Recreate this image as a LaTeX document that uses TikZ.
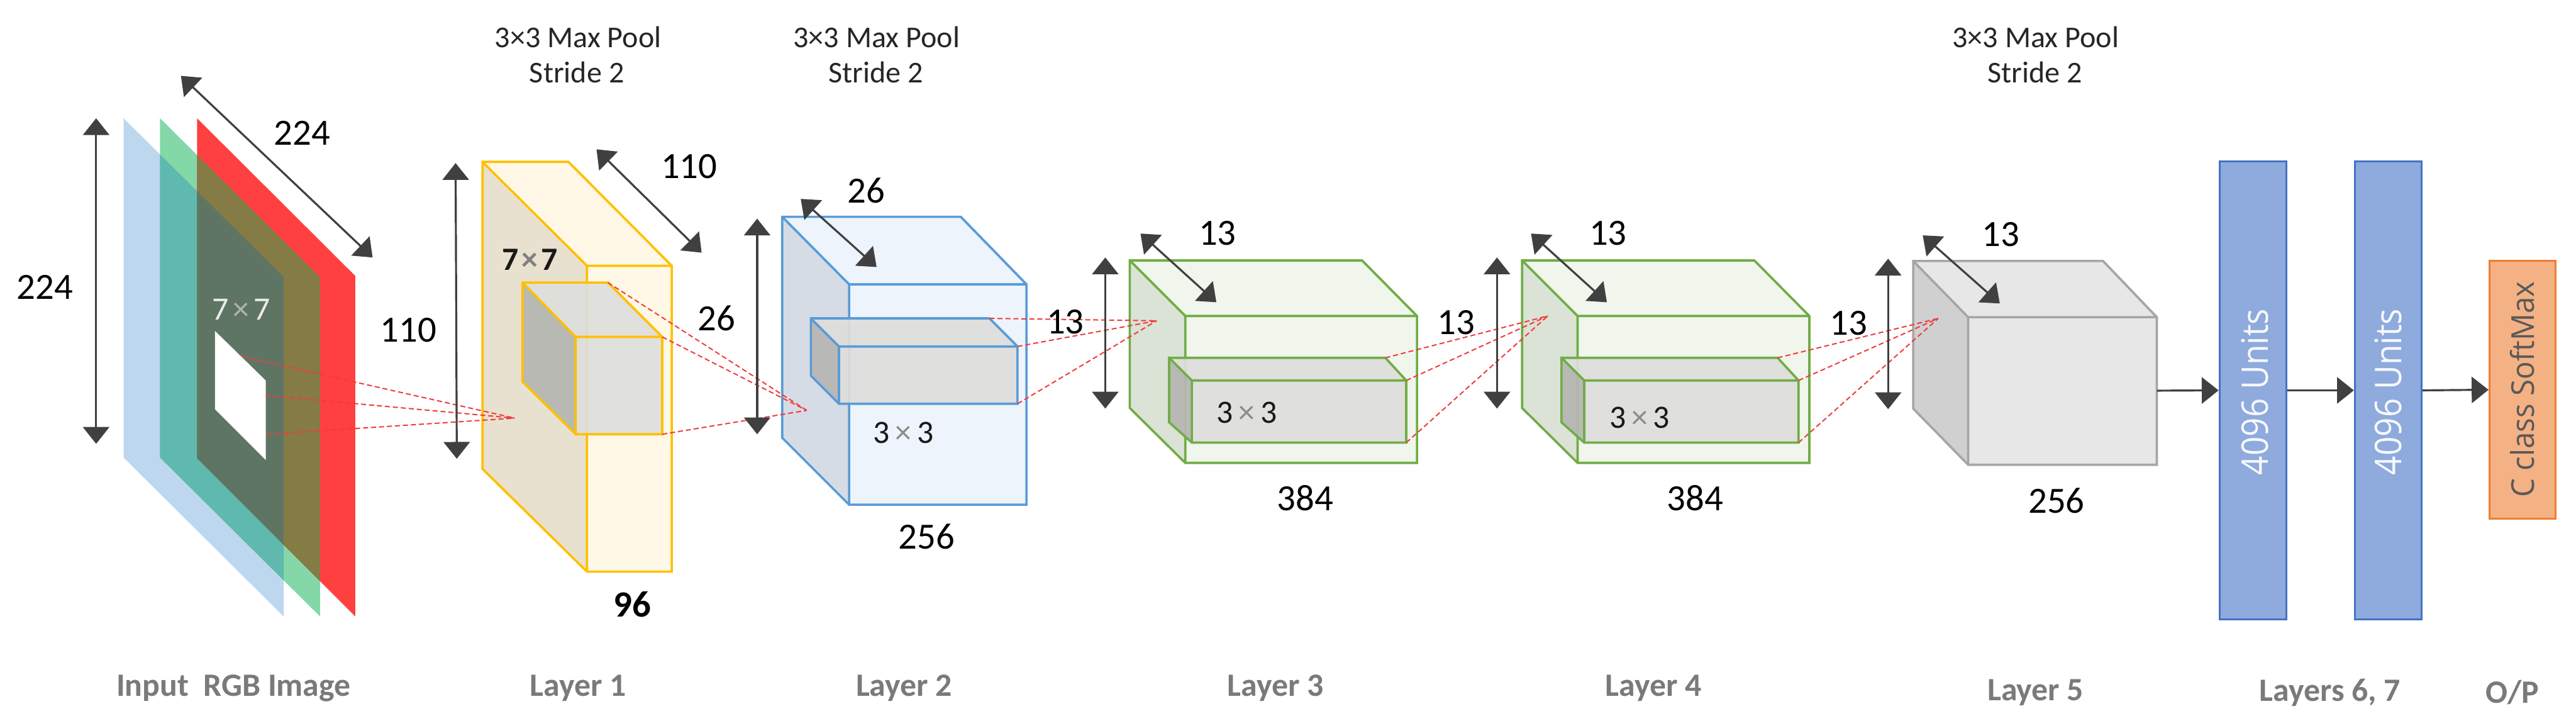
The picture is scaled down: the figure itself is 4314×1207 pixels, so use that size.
\documentclass[tikz,border=0pt]{standalone}
\usepackage{fontspec}
\usepackage{graphicx}
\setmainfont{Carlito}
\newfontfamily\unitfont{Open Sans}
\usetikzlibrary{arrows.meta,calc}
\definecolor{pBlue}{HTML}{BDD7EE}
\definecolor{pGreen}{HTML}{84D8A8}
\definecolor{pRed}{HTML}{FF4040}
\definecolor{pBG}{HTML}{5FB9AE}
\definecolor{pGR}{HTML}{847B45}
\definecolor{pAll}{HTML}{5F7563}
\definecolor{yS}{HTML}{FFC000}
\definecolor{yF}{HTML}{FFF8E7}
\definecolor{yD}{HTML}{E8E1CF}
\definecolor{bS}{HTML}{5B9BD5}
\definecolor{bF}{HTML}{EDF4FB}
\definecolor{bD}{HTML}{D6DCE5}
\definecolor{gS}{HTML}{70AD47}
\definecolor{gF}{HTML}{F0F6EC}
\definecolor{gD}{HTML}{DBE2D6}
\definecolor{kS}{HTML}{A6A6A6}
\definecolor{kF}{HTML}{E7E7E7}
\definecolor{kD}{HTML}{D0D0D0}
\definecolor{iF}{HTML}{DEDEDC}
\definecolor{iD}{HTML}{B6B6B2}
\definecolor{dimc}{HTML}{404040}
\definecolor{dash}{HTML}{F03C3C}
\definecolor{capc}{HTML}{7A7A7A}
\definecolor{fcF}{HTML}{8FAADC}
\definecolor{fcS}{HTML}{4472C4}
\definecolor{opF}{HTML}{F4B183}
\definecolor{opS}{HTML}{ED7D31}
\tikzset{
  x=0.01cm,y=-0.01cm,
  dimarrow/.style={draw=dimc,line width=0.95pt,
    {Triangle[width=12.5pt,length=8pt]}-{Triangle[width=12.5pt,length=8pt]}},
  flowarrow/.style={draw=dimc,line width=0.95pt,-{Triangle[width=12.5pt,length=8pt]}},
  reddash/.style={draw=dash,line width=0.6pt,dash pattern=on 2.4pt off 1.4pt},
  dimlabel/.style={inner sep=0pt,font=\fontsize{17.6}{20}\selectfont,text=black},
  title/.style={inner sep=0pt,font=\fontsize{14.4}{16}\selectfont,text=black!85},
  caption/.style={inner sep=0pt,font=\fontsize{15.5}{18}\selectfont\bfseries,text=capc},
  kernel/.style={inner sep=0pt,font=\fontsize{15.5}{18}\selectfont,text=black!90},
  fcbar/.style={draw=fcS,fill=fcF,line width=0.9pt,minimum width=112*0.01cm,minimum height=767*0.01cm,inner sep=0pt},
  opbar/.style={draw=opS,fill=opF,line width=0.9pt,minimum width=111*0.01cm,minimum height=431*0.01cm,inner sep=0pt},
}
% name, stroke, face, side, back-left-top, back-right-top, front-left-top, front-right-bottom, back-left-bottom
\newcommand{\boxy}[9]{%
  \coordinate (#1a) at #5; \coordinate (#1b) at #6; \coordinate (#1c) at #7;
  \coordinate (#1d) at #8; \coordinate (#1e) at #9;
  \coordinate (#1f) at (#1d |- #1c); \coordinate (#1g) at (#1c |- #1d);
  \fill[#4] (#1a) -- (#1c) -- (#1g) -- (#1e) -- cycle;
  \fill[#3] (#1a) -- (#1b) -- (#1f) -- (#1c) -- cycle;
  \fill[#3] (#1c) -- (#1f) -- (#1d) -- (#1g) -- cycle;
  \draw[#2,line width=1.1pt,line join=miter]
     (#1a) -- (#1b) -- (#1f) -- (#1d) -- (#1g) -- (#1e) -- cycle
     (#1a) -- (#1c) -- (#1f) (#1c) -- (#1g);
}
\begin{document}
\begin{tikzpicture}
\useasboundingbox (0,0) rectangle (4314,1207);
\fill[white] (0,0) rectangle (4314,1207);

% input planes
\coordinate (b1) at (207,198); \coordinate (b2) at (475,464); \coordinate (b3) at (475,1032); \coordinate (b4) at (207,766);
\coordinate (g1) at (268,198); \coordinate (g2) at (536,464); \coordinate (g3) at (536,1032); \coordinate (g4) at (268,766);
\coordinate (r1) at (330,198); \coordinate (r2) at (595,462); \coordinate (r3) at (595,1032); \coordinate (r4) at (330,767);
\newcommand{\blueP}{(b1)--(b2)--(b3)--(b4)--cycle}
\newcommand{\greenP}{(g1)--(g2)--(g3)--(g4)--cycle}
\newcommand{\redP}{(r1)--(r2)--(r3)--(r4)--cycle}
\fill[pBlue] \blueP;
\fill[pGreen] \greenP;
\fill[pRed] \redP;
\begin{scope}\clip \blueP; \fill[pBG] \greenP; \end{scope}
\begin{scope}\clip \greenP; \fill[pGR] \redP; \end{scope}
\begin{scope}\clip \blueP; \clip \greenP; \fill[pAll] \redP; \end{scope}
\fill[white] (360,554) -- (445,637) -- (445,770) -- (360,685) -- cycle;
\coordinate (w1) at (406,597); \coordinate (w2) at (445,662); \coordinate (w3) at (448,727);

% layers
\boxy{la}{yS}{yF}{yD}{(808,271)}{(952,271)}{(983,445)}{(1125,957)}{(808,785)}
\begin{scope}[fill opacity=.92]
\boxy{lai}{yS}{iF}{iD}{(875,473)}{(1018,473)}{(964,564)}{(1109,727)}{(875,639)}
\end{scope}
\boxy{lb}{bS}{bF}{bD}{(1310,363)}{(1609,363)}{(1422,476)}{(1719,845)}{(1310,733)}
\begin{scope}[fill opacity=.92]
\boxy{lbi}{bS}{iF}{iD}{(1358,533)}{(1657,533)}{(1405,580)}{(1704,676)}{(1358,629)}
\end{scope}
\boxy{lc}{gS}{gF}{gD}{(1892,436)}{(2281,436)}{(1985,529)}{(2373,775)}{(1892,683)}
\begin{scope}[fill opacity=.92]
\boxy{lci}{gS}{iF}{iD}{(1958,599)}{(2320,599)}{(1996,637)}{(2355,741)}{(1958,707)}
\end{scope}
\boxy{ld}{gS}{gF}{gD}{(2549,436)}{(2938,436)}{(2642,529)}{(3030,775)}{(2549,683)}
\begin{scope}[fill opacity=.92]
\boxy{ldi}{gS}{iF}{iD}{(2615,599)}{(2977,599)}{(2653,637)}{(3012,741)}{(2615,707)}
\end{scope}
\boxy{le}{kS}{kF}{kD}{(3204,437)}{(3522,437)}{(3296,531)}{(3612,778)}{(3204,684)}

% focus points of the dashed rays
\coordinate (fa) at (862,700);
\coordinate (fb) at (1351,687);
\coordinate (fc) at (1937,537);
\coordinate (fd) at (2592,529);
\coordinate (fe) at (3246,533);
\draw[reddash] (w1) -- (fa) (w2) -- (fa) (w3) -- (fa);
\draw[reddash] (laib) -- (fb) (laif) -- (fb) (laid) -- (fb);
\draw[reddash] (lbib) -- (fc) (lbif) -- (fc) (lbid) -- (fc);
\draw[reddash] (lcib) -- (fd) (lcif) -- (fd) (lcid) -- (fd);
\draw[reddash] (ldib) -- (fe) (ldif) -- (fe) (ldid) -- (fe);

% dimension arrows
\coordinate (v0a) at (161,198); \coordinate (v0b) at (161,743);
\coordinate (d0a) at (303,127); \coordinate (d0b) at (624,431);
\coordinate (v1a) at (763,273); \coordinate (v1b) at (765,768);
\coordinate (d1a) at (999,250); \coordinate (d1b) at (1175,423);
\coordinate (v2a) at (1268,366); \coordinate (v2b) at (1268,727);
\coordinate (d2a) at (1341,333); \coordinate (d2b) at (1468,447);
\coordinate (v3a) at (1851,431); \coordinate (v3b) at (1851,684);
\coordinate (d3a) at (1910,391); \coordinate (d3b) at (2037,506);
\coordinate (v4a) at (2507,431); \coordinate (v4b) at (2507,684);
\coordinate (d4a) at (2564,391); \coordinate (d4b) at (2691,506);
\coordinate (v5a) at (3162,433); \coordinate (v5b) at (3162,685);
\coordinate (d5a) at (3220,394); \coordinate (d5b) at (3349,508);
\foreach \n in {v0,d0,v1,d1,v2,d2,v3,d3,v4,d4,v5,d5}{\draw[dimarrow] (\n a) -- (\n b);}

% fully connected bars
\node[fcbar] (fc1) at (3773,653.5) {};
\node[rotate=90,inner sep=0pt,text=white!92!fcF,font=\unitfont\fontsize{17.5}{20}\selectfont] (fc1t) at (3776,656) {\scalebox{0.91}[1]{4096 Units}};
\node[fcbar] (fc2) at (3999.5,653.5) {};
\node[rotate=90,inner sep=0pt,text=white!92!fcF,font=\unitfont\fontsize{17.5}{20}\selectfont] (fc2t) at (3999,656) {\scalebox{0.91}[1]{4096 Units}};
\node[opbar] (op) at (4224.5,652.5) {};
\node[rotate=90,inner sep=0pt,text=black!65,font=\unitfont\fontsize{15}{18}\selectfont] (opt) at (4224,652) {\scalebox{0.95}[1]{C class SoftMax}};
\coordinate (lem) at (3612,654);
\draw[flowarrow] (lem) -- (fc1.west);
\draw[flowarrow] (fc1.east) -- (fc2.west);
\draw[flowarrow] (fc2.east) -- (op.west);

% texts
\node[title] (t1a) at (968,62) {3×3 Max Pool};
\node[title] (t1b) at (966,121) {Stride 2};
\node[title] (t2a) at (1468,62) {3×3 Max Pool};
\node[title] (t2b) at (1467,121) {Stride 2};
\node[title] (t5a) at (3409,62) {3×3 Max Pool};
\node[title] (t5b) at (3408,121) {Stride 2};

\node[dimlabel] (n224a) at (75,481) {224};
\node[dimlabel] (n224b) at (506,223) {224};
\node[dimlabel] (n110a) at (684,553) {110};
\node[dimlabel] (n110b) at (1154,279) {110};
\node[dimlabel] (n26a) at (1200,533) {26};
\node[dimlabel] (n26b) at (1451,319) {26};
\node[dimlabel] (n13a) at (1784,539) {13};
\node[dimlabel] (n13b) at (2039,390) {13};
\node[dimlabel] (n13c) at (2439,540) {13};
\node[dimlabel] (n13d) at (2693,390) {13};
\node[dimlabel] (n13e) at (3096,541) {13};
\node[dimlabel] (n13f) at (3351,393) {13};
\node[dimlabel,font=\fontsize{17.6}{20}\selectfont\bfseries] (n96) at (1059,1012) {96};
\node[dimlabel] (n256a) at (1552,898) {256};
\node[dimlabel] (n384a) at (2186,834) {384};
\node[dimlabel] (n384b) at (2839,834) {384};
\node[dimlabel] (n256b) at (3444,838) {256};

\node[kernel,text=white!92!black] (k0) at (404,518) {7\hspace{2pt}{\color{white!70!black}×}\hspace{2pt}7};
\node[kernel,font=\fontsize{15.5}{18}\selectfont\bfseries] (k1) at (887,435) {7\hspace{1.5pt}{\color{black!50}×}\hspace{1.5pt}7};
\node[kernel] (k2) at (1513,725) {3\,{\color{black!45}×}\,3};
\node[kernel] (k3) at (2088,691) {3\,{\color{black!45}×}\,3};
\node[kernel] (k4) at (2746,699) {3\,{\color{black!45}×}\,3};

\node[caption] (c0) at (391,1152) {Input\ \ RGB Image};
\node[caption] (c1) at (968,1152) {Layer 1};
\node[caption] (c2) at (1514,1152) {Layer 2};
\node[caption] (c3) at (2136,1152) {Layer 3};
\node[caption] (c4) at (2769,1152) {Layer 4};
\node[caption] (c5) at (3409,1159) {Layer 5};
\node[caption] (c6) at (3902,1159) {Layers 6, 7};
\node[caption] (c7) at (4207,1159) {O/P};
\end{tikzpicture}
\end{document}
